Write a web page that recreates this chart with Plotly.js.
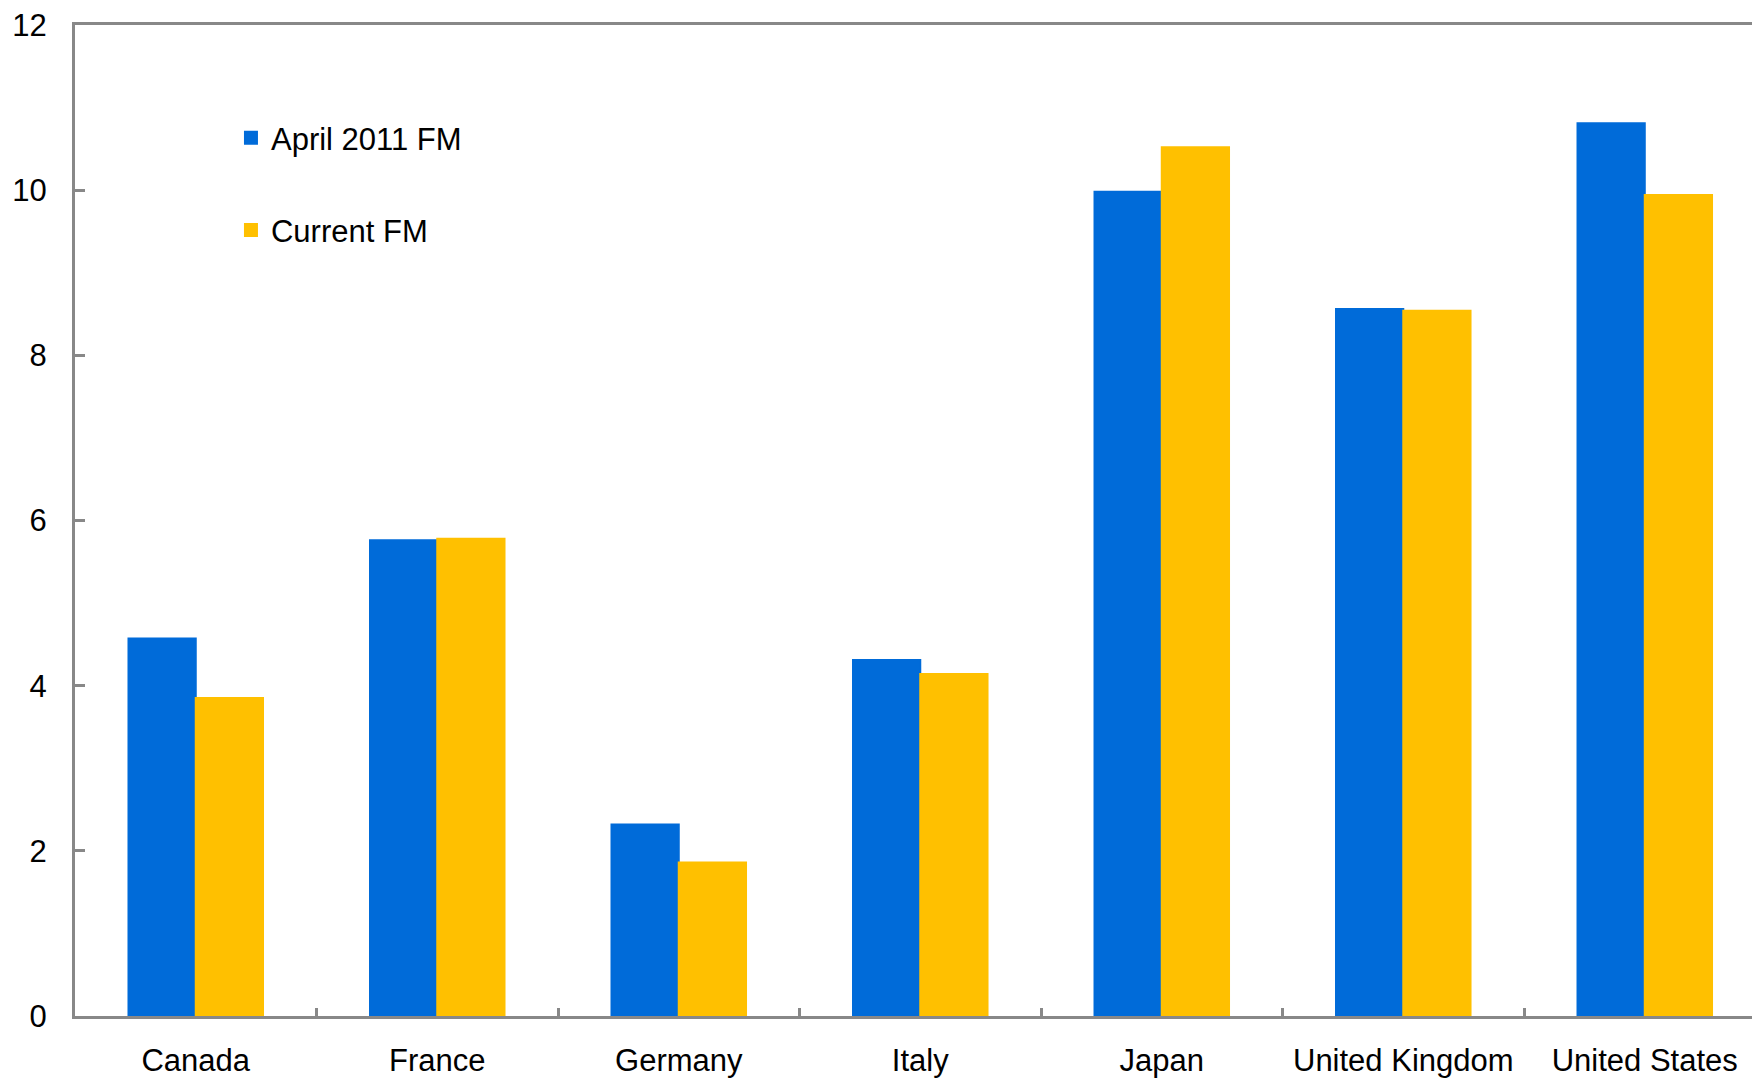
<!DOCTYPE html>
<html>
<head>
<meta charset="utf-8">
<script src="https://cdn.plot.ly/plotly-3.0.1.min.js"></script>
<style>
  html, body { margin: 0; padding: 0; background: #ffffff; overflow: hidden; }
  #chart { width: 1752px; height: 1081px; }
</style>
</head>
<body>
<div id="chart"></div>
<script>
const categories = ["Canada", "France", "Germany", "Italy", "Japan", "United Kingdom", "United States"];
const april2011FM = [4.57, 5.76, 2.32, 4.31, 9.98, 8.56, 10.81];
const currentFM = [3.85, 5.78, 1.86, 4.14, 10.52, 8.54, 9.94];
const seriesNames = ["April 2011 FM", "Current FM"];
const yTicks = [0, 2, 4, 6, 8, 10, 12];

const BLUE = "#006BD9";
const YELLOW = "#FFC000";
const GREY = "#888888";
const FONT = "Liberation Sans, Arial, sans-serif";

const traces = [
  {
    type: "bar", name: seriesNames[0], x: categories, y: april2011FM,
    marker: { color: BLUE, line: { width: 2, color: BLUE } }, legend: "legend",
    hoverinfo: "x+y"
  },
  {
    type: "bar", name: seriesNames[1], x: categories, y: currentFM,
    marker: { color: YELLOW, line: { width: 2, color: YELLOW } }, legend: "legend2",
    hoverinfo: "x+y"
  }
];

const layout = {
  width: 1752, height: 1081,
  margin: { l: 75, r: 0, t: 25, b: 65, pad: 0 },
  paper_bgcolor: "#ffffff", plot_bgcolor: "#ffffff",
  font: { family: FONT, size: 31, color: "#000000" },
  barmode: "group", bargap: 0.443, bargroupgap: 0,
  xaxis: {
    type: "category",
    range: [-0.5, 6.444],
    showline: true, linecolor: GREY, linewidth: 3, mirror: true,
    ticks: "inside", tickson: "boundaries", ticklen: 8, tickwidth: 3, tickcolor: GREY,
    showgrid: false, zeroline: false,
    tickfont: { family: FONT, size: 31, color: "#000" },
    ticklabelstandoff: 15,
    fixedrange: true
  },
  yaxis: {
    range: [0, 12],
    tickvals: yTicks, ticktext: yTicks.map(String),
    showline: true, linecolor: GREY, linewidth: 3,
    ticks: "inside", ticklen: 10, tickwidth: 3, tickcolor: GREY,
    showgrid: false, zeroline: false,
    tickfont: { family: FONT, size: 31, color: "#000" },
    ticklabelstandoff: 19,
    fixedrange: true
  },
  legend: {
    x: 0.0930, xanchor: "left", y: 0.8858, yanchor: "middle",
    bgcolor: "rgba(0,0,0,0)", borderwidth: 0,
    font: { family: FONT, size: 31, color: "#000" }
  },
  legend2: {
    x: 0.0930, xanchor: "left", y: 0.7929, yanchor: "middle",
    bgcolor: "rgba(0,0,0,0)", borderwidth: 0,
    font: { family: FONT, size: 31, color: "#000" }
  },
  showlegend: true
};

Plotly.newPlot("chart", traces, layout, { displayModeBar: false });
</script>
</body>
</html>
